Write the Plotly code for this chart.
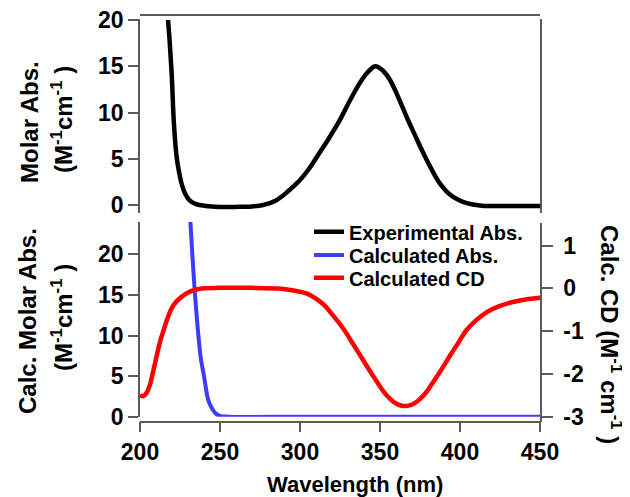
import plotly.graph_objects as go

# ---------------- data ----------------
exp_wl = [217.5, 218.5, 219.8, 221.2, 222.9, 224.5, 226, 228, 231, 235, 241, 250, 260, 270,
          277, 285, 292, 300, 306, 312, 318, 324, 330, 336, 341, 345, 347, 349, 352, 356,
          360, 364, 368, 372, 376, 380, 384, 388, 392, 396, 401, 408, 415, 425, 435, 445, 450]
exp_abs = [20, 17.8, 14.2, 8.8, 5.2, 3.5, 2.3, 1.3, 0.5, 0.1, -0.1, -0.2, -0.2, -0.15,
           0.0, 0.5, 1.4, 2.7, 4.0, 5.6, 7.2, 8.9, 10.9, 12.8, 14.1, 14.8, 15.0, 14.9, 14.5, 13.6,
           12.2, 10.6, 9.0, 7.5, 6.0, 4.6, 3.3, 2.2, 1.4, 0.85, 0.4, 0.05, -0.1, -0.1, -0.1, -0.1, -0.1]

calc_wl = [231.5, 232.7, 234.4, 236.5, 238, 240, 242.7, 245, 247, 250, 255, 300, 350, 400, 450]
calc_abs = [24, 20, 15, 10, 7.2, 5, 2, 1, 0.45, 0.1, 0.0, 0, 0, 0, 0]

cd_wl = [200, 202, 204, 206, 208, 210, 212.5, 215, 217, 220, 223, 226, 230, 234, 240, 250, 270,
         288, 296, 304, 310, 315, 321, 327, 332, 337.5, 343, 348, 352, 356, 360, 364.5, 369,
         373, 378, 382, 388, 394, 399, 404, 410, 417, 425, 433, 441, 450]
cd_val = [-2.5, -2.52, -2.45, -2.28, -1.98, -1.65, -1.25, -0.95, -0.72, -0.45, -0.3, -0.2, -0.1,
          -0.04, 0.0, 0.01, 0.01, -0.01, -0.05, -0.12, -0.24, -0.39, -0.65, -0.94, -1.23, -1.56,
          -1.89, -2.18, -2.40, -2.57, -2.69, -2.75, -2.73, -2.65, -2.47, -2.26, -1.92, -1.56,
          -1.27, -0.98, -0.75, -0.55, -0.41, -0.32, -0.26, -0.22]

x_ticks = [200, 250, 300, 350, 400, 450]
left_ticks = [0, 5, 10, 15, 20]
cd_ticks = [-3, -2, -1, 0, 1]
cd_tick_text = ["-3", "-2", "-1", "0", "1"]

# ---------------- layout helpers ----------------
# the page body has an 8px margin, so the figure starts at (8, 8) of the window
OFF = 8
W, H = 630 - OFF, 497 - OFF
ML, MR, MT, MB = 140 - OFF, 90, 12 - OFF, 70
PW, PH = W - ML - MR, H - MT - MB
X0, YB = 140, 427  # page pixel of plot-area left / bottom


def px(x):
    return (x - X0) / PW


def py(y):
    return (YB - y) / PH


FONT = "Liberation Sans, Arial, sans-serif"
AXC = "#5a5a5a"
tickfont = dict(family=FONT, size=23, color="black", weight="bold")
legfont = dict(family=FONT, size=20, color="black", weight="bold")

fig = go.Figure()
fig.add_trace(go.Scatter(x=exp_wl, y=exp_abs, mode="lines", name="Experimental Abs.",
                         line=dict(color="black", width=4.5, shape="spline"),
                         xaxis="x2", yaxis="y2", legend="legend"))
fig.add_trace(go.Scatter(x=calc_wl, y=calc_abs, mode="lines", name="Calculated Abs.",
                         line=dict(color="#3c3cff", width=4, shape="spline"),
                         xaxis="x", yaxis="y", legend="legend2"))
fig.add_trace(go.Scatter(x=cd_wl, y=cd_val, mode="lines", name="Calculated CD",
                         line=dict(color="#ff0000", width=4.5, shape="spline"),
                         xaxis="x", yaxis="y3", legend="legend3"))

common = dict(showgrid=False, zeroline=False, showline=True, linecolor=AXC, linewidth=1.5,
              tickcolor=AXC, tickwidth=1.5, tickfont=tickfont, ticklabeloverflow="allow")

LEGX = px(309)


def leg(yc):
    return dict(x=LEGX, y=py(yc), xanchor="left", yanchor="middle",
                bgcolor="rgba(0,0,0,0)", borderwidth=0, font=legfont)


fig.update_layout(
    width=W, height=H,
    margin=dict(l=ML, r=MR, t=MT, b=MB, autoexpand=False),
    paper_bgcolor="white", plot_bgcolor="rgba(0,0,0,0)",
    showlegend=True,
    legend=leg(231.7), legend2=leg(255), legend3=leg(277.7),
    xaxis=dict(**common, domain=[0, 1], range=[200, 450], anchor="free", position=py(421.7),
               tickvals=x_ticks, ticks="outside", ticklen=10),
    yaxis=dict(**common, domain=[py(416.7), py(222)],
               range=[0, 20 * (416.7 - 222) / (416.7 - 254.3)],
               anchor="x", tickvals=left_ticks, ticks="outside", ticklen=10),
    yaxis3=dict(**common, domain=[py(421.7), py(222.5)],
                range=[-3 - 5 / 42.8, (288.3 - 222.5) / 42.8],
                anchor="x", side="right", tickvals=cd_ticks, ticktext=cd_tick_text,
                ticks="outside", ticklen=11, ticklabelstandoff=6),
    xaxis2=dict(**common, domain=[0, 1], range=[200, 450], anchor="free", position=py(15),
                side="top", ticks="", showticklabels=False),
    yaxis2=dict(**common, domain=[py(213), py(19)], range=[-0.861, 20.11], anchor="x2",
                mirror=True, tickvals=left_ticks, ticks="outside", ticklen=10),
)

tfont = dict(family=FONT, size=24, color="black", weight="bold")
xtfont = dict(family=FONT, size=22, color="black", weight="bold")
ann = [
    dict(text="Molar Abs.", x=px(30), y=py(122), textangle=-90, font=tfont),
    dict(text="(M<sup>-1</sup>cm<sup>-1</sup> )", x=px(62), y=py(120), textangle=-90, font=tfont),
    dict(text="Calc. Molar Abs.", x=px(27), y=py(321), textangle=-90, font=tfont),
    dict(text="(M<sup>-1</sup>cm<sup>-1</sup> )", x=px(62), y=py(318), textangle=-90, font=tfont),
    dict(text="Calc. CD (M<sup>-1</sup> cm<sup>-1</sup> )", x=px(611), y=py(334), textangle=90,
         font=tfont),
    dict(text="Wavelength (nm)", x=px(355), y=py(484), textangle=0, font=xtfont),
]
for a in ann:
    fig.add_annotation(xref="paper", yref="paper", xanchor="center", yanchor="middle",
                       showarrow=False, **a)

fig.write_html("out.html")
